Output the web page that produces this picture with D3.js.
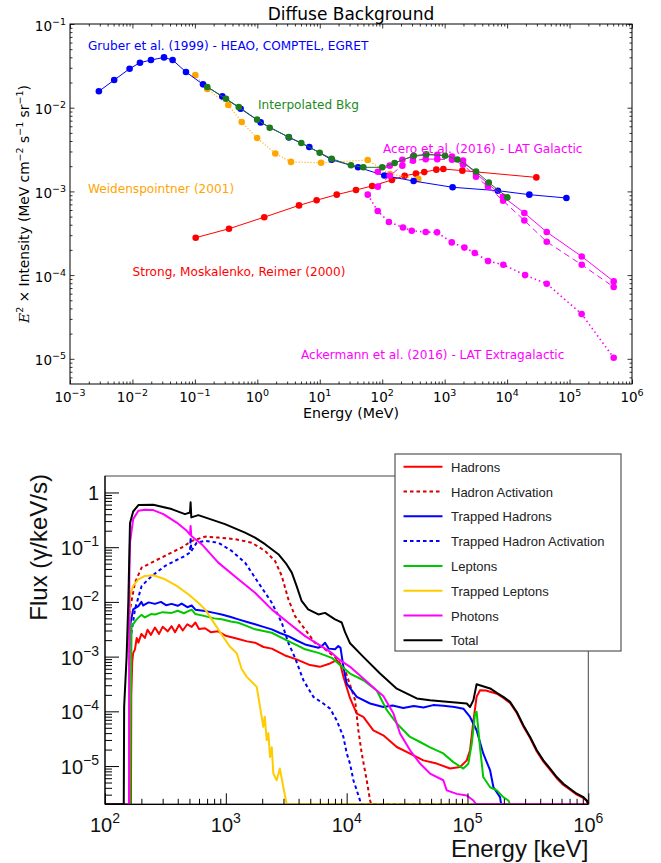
<!DOCTYPE html>
<html>
<head>
<meta charset="utf-8">
<script src="https://cdn.jsdelivr.net/npm/d3@7"></script>
<style>
  body { margin: 0; background: #fff; }
</style>
</head>
<body>
<div id="chart"></div>
<script>
// ---------- top panel data (MeV, MeV cm^-2 s^-1 sr^-1) ----------
const gruberE = [0.0029, 0.0051, 0.009, 0.0132, 0.0198, 0.032, 0.044, 0.072, 0.135, 0.275, 0.54, 1.13, 3.2, 6.8, 15.5, 41, 108, 318, 1340, 7100, 22700, 89000];
const gruberI = [0.0157, 0.0214, 0.0292, 0.0345, 0.0371, 0.0399, 0.0371, 0.0267, 0.019, 0.01365, 0.00973, 0.00667, 0.00442, 0.00339, 0.00239, 0.00194, 0.00155, 0.00133, 0.00112, 0.00102, 0.000914, 0.000834];

const interpE = [0.158, 0.315, 0.504, 0.99, 1.58, 3.18, 5.06, 9.97, 15.5, 31.6, 49.8, 100, 158, 320, 509, 1014, 1600, 3180, 5080, 10090];
const interpI = [0.0177, 0.0128, 0.0102, 0.0072, 0.00577, 0.00447, 0.00379, 0.0029, 0.00246, 0.00205, 0.00194, 0.00194, 0.00218, 0.00267, 0.00277, 0.00267, 0.00241, 0.00173, 0.00128, 0.000848];

const weidE = [0.1016, 0.158, 0.343, 0.562, 0.99, 1.94, 3.46, 10.5, 58.6, 133, 378];
const weidI = [0.0246, 0.0167, 0.01077, 0.00675, 0.00434, 0.00284, 0.00225, 0.0022, 0.00237, 0.00161, 0.00141];

const strongE = [0.103, 0.352, 1.29, 4.65, 8.9, 18.7, 38, 69, 143, 229, 347, 472, 735, 952, 1920, 29400];
const strongI = [2.8e-4, 3.58e-4, 4.92e-4, 6.8e-4, 7.85e-4, 9.14e-4, 1.04e-3, 1.16e-3, 1.37e-3, 1.54e-3, 1.63e-3, 1.7e-3, 1.82e-3, 1.85e-3, 1.77e-3, 1.47e-3];

const aceroE = [85, 132, 210, 311, 497, 762, 1312, 1968, 3176, 4943, 8610, 18870, 43100, 156700, 509000];
const aceroI = [1.72e-3, 2.03e-3, 2.39e-3, 2.6e-3, 2.74e-3, 2.74e-3, 2.6e-3, 2.33e-3, 1.63e-3, 1.24e-3, 8.63e-4, 5.52e-4, 3.27e-4, 1.67e-4, 8.41e-5];
const aceroDashI = [1.14e-3, 1.54e-3, 2.03e-3, 2.33e-3, 2.43e-3, 2.43e-3, 2.39e-3, 2.08e-3, 1.5e-3, 1.14e-3, 7.73e-4, 4.5e-4, 2.5e-4, 1.33e-4, 7.21e-5];

const ackerE = [58.6, 84.7, 128, 215, 297, 497, 755, 1300, 2070, 3030, 4950, 8700, 19400, 43100, 156000, 509000];
const ackerI = [9.14e-4, 5.83e-4, 4.31e-4, 3.71e-4, 3.39e-4, 3.27e-4, 3.24e-4, 2.46e-4, 2.13e-4, 1.84e-4, 1.47e-4, 1.33e-4, 1.0e-4, 7.89e-5, 3.43e-5, 1.03e-5];

const topDecadesX = [-3, -2, -1, 0, 1, 2, 3, 4, 5, 6];
const topDecadesY = [-5, -4, -3, -2, -1];

// ---------- bottom panel data ([keV, gamma/keV/s]) ----------
const hadrons = [[100,1e-7],[164,1e-7],[165,2e-4],[168,8e-4],[171,1.16e-3],[177,1.36e-3],[183,2.2e-3],[189,1.8e-3],[200,2.6e-3],[214,2.2e-3],[225,3.1e-3],[240,2.5e-3],[259,3.4e-3],[280,2.6e-3],[300,3.5e-3],[330,2.9e-3],[356,3.6e-3],[380,2.8e-3],[410,3.8e-3],[440,3.0e-3],[480,3.9e-3],[522,3.5e-3],[560,4.2e-3],[600,3.2e-3],[673,3.3e-3],[750,2.8e-3],[866,2.9e-3],[1000,2.4e-3],[1270,2.1e-3],[1500,1.9e-3],[1745,1.8e-3],[2050,1.5e-3],[2400,1.4e-3],[3090,1.05e-3],[3800,9e-4],[4980,7e-4],[6000,6.5e-4],[7290,7.5e-4],[8280,8.6e-4],[8900,7e-4],[9400,4.3e-4],[10670,1.74e-4],[12130,9.1e-5],[13740,7.9e-5],[16630,4.5e-5],[20100,3.65e-5],[26000,2.23e-5],[33500,1.69e-5],[43200,1.27e-5],[55700,1.11e-5],[71800,9e-6],[86900,9.6e-6],[98600,1.27e-5],[105000,1.94e-5],[112000,6.8e-5],[119000,1.84e-4],[127000,2.43e-4],[142000,2.4e-4],[175000,2.1e-4],[198000,1.75e-4],[225000,1.42e-4],[256000,9.3e-5],[290000,5.3e-5],[330000,3.25e-5],[375000,1.85e-5],[425000,1.2e-5],[483000,8.5e-6],[548000,6e-6],[622000,4.5e-6],[706000,3.7e-6],[803000,3e-6],[912000,2.6e-6],[972000,2.3e-6],[1000000,1e-7]];

const hadronAct = [[100,1e-7],[158,1e-7],[159,2e-3],[161,7.3e-3],[177,0.0225],[201,0.0423],[259,0.0561],[334,0.0745],[431,0.0984],[522,0.13],[673,0.156],[866,0.15],[1191,0.14],[1637,0.121],[2113,0.0855],[2554,0.0561],[2904,0.0298],[3290,0.0112],[3740,5.5e-3],[4530,3.15e-3],[5470,1.79e-3],[6625,1.36e-3],[8015,9.8e-4],[9700,5.7e-4],[11750,1.6e-4],[12500,4.5e-5],[13330,1.7e-5],[14660,5.5e-6],[15630,2.35e-6],[16000,1e-7],[1000000,1e-7]];

const trappedHadrons = [[100,1e-7],[158,1e-7],[159,5e-4],[161,3.6e-3],[171,7.3e-3],[189,8.4e-3],[200,1.0e-2],[207,8.6e-3],[230,9.8e-3],[259,9.2e-3],[290,1.0e-2],[320,8.7e-3],[356,9.2e-3],[400,8.5e-3],[431,9.3e-3],[480,8.0e-3],[522,8.6e-3],[560,7.2e-3],[673,6.8e-3],[800,6.3e-3],[925,5.9e-3],[1100,5.3e-3],[1270,4.8e-3],[1500,4.3e-3],[1745,3.9e-3],[2050,3.5e-3],[2400,3.15e-3],[2800,2.7e-3],[3290,2.37e-3],[3900,1.95e-3],[4530,1.67e-3],[5835,1.45e-3],[6300,1.6e-3],[6625,1.79e-3],[7100,1.4e-3],[8015,1.36e-3],[8530,1.56e-3],[8900,1.45e-3],[9400,6.5e-4],[10020,3.2e-4],[12130,1.84e-4],[15630,1.39e-4],[20100,1.2e-4],[24000,1.28e-4],[29400,1.15e-4],[36000,1.25e-4],[43200,1.18e-4],[52000,1.3e-4],[63100,1.27e-4],[78000,1.2e-4],[92500,1.12e-4],[105000,7.9e-5],[119000,4.5e-5],[135000,1.7e-5],[154000,8.3e-6],[164000,4.1e-6],[186000,2.7e-6],[190000,1e-7],[1000000,1e-7]];

const trappedHadronAct = [[100,1e-7],[158,1e-7],[159,3e-4],[161,1.8e-3],[177,7.3e-3],[201,0.0196],[244,0.0298],[314,0.0454],[379,0.0561],[459,0.0693],[505,0.08],[511,0.15],[518,0.085],[574,0.121],[673,0.13],[866,0.121],[1119,0.0855],[1442,0.0522],[1858,0.0225],[2400,0.00967],[2904,0.00416],[3290,0.00179],[3740,9.5e-4],[4385,3.7e-4],[5300,1.84e-4],[6410,1.39e-4],[7290,1.12e-4],[8280,6.8e-5],[9400,3.4e-5],[10020,1.7e-5],[10670,1.1e-5],[11370,5.5e-6],[12130,3.6e-6],[12900,2.35e-6],[13000,1e-7],[1000000,1e-7]];

const leptons = [[100,1e-7],[162,1e-7],[163,1e-4],[166,3.6e-3],[183,4.8e-3],[200,5.8e-3],[214,5.2e-3],[240,6.0e-3],[259,5.9e-3],[300,6.5e-3],[356,6.3e-3],[400,6.9e-3],[450,6.2e-3],[489,6.8e-3],[522,7.2e-3],[560,6.0e-3],[673,5.5e-3],[800,5.0e-3],[925,4.8e-3],[1100,4.4e-3],[1270,4.16e-3],[1500,3.6e-3],[1745,3.15e-3],[2050,2.95e-3],[2400,2.73e-3],[2800,2.3e-3],[3290,1.92e-3],[3900,1.6e-3],[4530,1.36e-3],[5835,1.17e-3],[7530,9.5e-4],[8810,7e-4],[10670,4.9e-4],[13740,3.7e-4],[17740,2.4e-4],[21500,1.05e-4],[26000,6e-5],[33500,3.4e-5],[40500,2.75e-5],[49000,2.2e-5],[63100,1.7e-5],[76400,1.18e-5],[92500,9e-6],[101600,1.1e-5],[108600,2.6e-5],[115600,9.1e-5],[119000,9.8e-5],[127000,2.2e-5],[135000,6.3e-6],[154000,4.1e-6],[175000,3.6e-6],[198000,2.7e-6],[218000,2.35e-6],[225000,1e-7],[1000000,1e-7]];

const trappedLeptons = [[100,1e-7],[158,1e-7],[159,3e-3],[161,0.0128],[171,0.0196],[189,0.0259],[214,0.0298],[251,0.0307],[314,0.0259],[392,0.0196],[489,0.0138],[592,0.00967],[673,0.00731],[764,0.0048],[866,0.00315],[984,0.00206],[1084,1.51e-3],[1231,1.15e-3],[1350,6e-4],[1489,4.27e-4],[1650,3.4e-4],[1803,2.8e-4],[1920,1.2e-4],[2043,5.2e-5],[2100,8e-5],[2180,2.96e-5],[2250,4e-5],[2323,1.46e-5],[2400,2.2e-5],[2473,7.3e-6],[2637,5.5e-6],[2800,9e-6],[2993,4.1e-6],[3190,1e-7],[1000000,1e-7]];

const photons = [[100,1e-7],[158,1e-7],[159,0.03],[161,0.121],[171,0.326],[189,0.462],[214,0.482],[251,0.476],[304,0.402],[392,0.282],[475,0.199],[505,0.17],[511,0.245],[518,0.16],[631,0.1135],[866,0.0522],[1270,0.0259],[1745,0.0147],[2400,0.00731],[3290,0.00416],[4530,0.00237],[5835,0.00167],[7530,0.00117],[8810,8.6e-4],[10670,6.5e-4],[13740,4e-4],[17740,2.4e-4],[20100,1.9e-4],[24400,9.1e-5],[27700,3.9e-5],[33500,1.94e-5],[40500,1.11e-5],[49000,7.3e-6],[63100,5.5e-6],[67400,3.6e-6],[81500,3.1e-6],[98600,2.9e-6],[112000,2.35e-6],[118000,1e-7],[1000000,1e-7]];

const total = [[100,1e-7],[143,1e-7],[144,1.2e-4],[151,1.0e-3],[156,0.01],[161,0.275],[171,0.449],[189,0.588],[251,0.595],[356,0.497],[459,0.402],[505,0.43],[511,0.66],[518,0.35],[592,0.385],[984,0.264],[1442,0.185],[1745,0.15],[2113,0.1135],[2720,0.0745],[3180,0.0489],[3515,0.0343],[3850,0.0196],[4240,0.0104],[4800,0.0073],[5835,0.0059],[6625,0.0063],[8015,0.0048],[8530,0.0045],[9100,0.0042],[9700,0.0028],[10670,0.00175],[13740,9.9e-4],[18900,4.9e-4],[26000,2.6e-4],[38000,1.72e-4],[49000,1.6e-4],[67400,1.49e-4],[98600,1.39e-4],[105000,1.2e-4],[112000,1.6e-4],[119000,3.13e-4],[154000,2.62e-4],[175000,2.17e-4],[198000,1.84e-4],[225000,1.49e-4],[256000,9.75e-5],[290000,5.56e-5],[330000,3.4e-5],[375000,1.94e-5],[425000,1.27e-5],[483000,8.95e-6],[548000,6.3e-6],[622000,4.76e-6],[706000,3.85e-6],[803000,3.12e-6],[912000,2.7e-6],[972000,2.35e-6],[1000000,1e-7]];

const seriesNames = ["Hadrons", "Hadron Activation", "Trapped Hadrons", "Trapped Hadron Activation", "Leptons", "Trapped Leptons", "Photons", "Total"];
const bottomDecadesX = [2, 3, 4, 5, 6];
const bottomDecadesY = [-5, -4, -3, -2, -1, 0];

// ---------- drawing ----------
const svg = d3.select("#chart").append("svg")
    .attr("width", 661)
    .attr("height", 863);

function minorTicks(d0, d1, lo, hi) {
    const out = [];
    for (let d = d0; d <= d1; d++) {
        for (let k = 2; k <= 9; k++) {
            const v = k * Math.pow(10, d);
            if (v > lo && v < hi) out.push(v);
        }
    }
    return out;
}

function powerLabel(text, exp, bigSize, smallSize, shift) {
    text.append("tspan").text("10");
    text.append("tspan")
        .attr("dy", -shift)
        .attr("font-size", smallSize)
        .text(exp < 0 ? "\u2212" + (-exp) : String(exp));
}

// ===== top panel =====
const t = { left: 70, right: 632, top: 24, bottom: 384 };
const x1 = d3.scaleLog().domain([1e-3, 1e6]).range([t.left, t.right]);
const y1 = d3.scaleLog().domain([5e-6, 1e-1]).range([t.bottom, t.top]);

const topG = svg.append("g").style("font-family", "'DejaVu Sans', sans-serif");

topG.append("clipPath").attr("id", "clipTop")
    .append("rect").attr("x", t.left).attr("y", t.top)
    .attr("width", t.right - t.left).attr("height", t.bottom - t.top);

const xMajor1 = topDecadesX.map(d => Math.pow(10, d));
const yMajor1 = topDecadesY.map(d => Math.pow(10, d));
const xMinor1 = minorTicks(-3, 5, 1e-3, 1e6);
const yMinor1 = minorTicks(-6, -2, 5e-6, 1e-1);

// inward ticks on all four sides
function tickAxis(g, axisFn, scale, values, size, transform) {
    g.append("g")
        .attr("transform", transform)
        .call(axisFn(scale).tickValues(values).tickSize(size).tickFormat(""))
        .call(s => s.select(".domain").remove())
        .selectAll("line").attr("stroke", "#000").attr("stroke-width", 0.8);
}
tickAxis(topG, d3.axisBottom, x1, xMajor1, -4.5, `translate(0,${t.bottom})`);
tickAxis(topG, d3.axisBottom, x1, xMinor1, -2.5, `translate(0,${t.bottom})`);
tickAxis(topG, d3.axisTop, x1, xMajor1, -4.5, `translate(0,${t.top})`);
tickAxis(topG, d3.axisTop, x1, xMinor1, -2.5, `translate(0,${t.top})`);
tickAxis(topG, d3.axisLeft, y1, yMajor1, -4.5, `translate(${t.left},0)`);
tickAxis(topG, d3.axisLeft, y1, yMinor1, -2.5, `translate(${t.left},0)`);
tickAxis(topG, d3.axisRight, y1, yMajor1, -4.5, `translate(${t.right},0)`);
tickAxis(topG, d3.axisRight, y1, yMinor1, -2.5, `translate(${t.right},0)`);

topG.append("rect")
    .attr("x", t.left).attr("y", t.top)
    .attr("width", t.right - t.left).attr("height", t.bottom - t.top)
    .attr("fill", "none").attr("stroke", "#000").attr("stroke-width", 1);

// tick labels
topDecadesX.forEach(d => {
    const tx = topG.append("text")
        .attr("x", x1(Math.pow(10, d)))
        .attr("y", 401.5)
        .attr("text-anchor", "middle")
        .attr("font-size", 13.5);
    powerLabel(tx, d, 13.5, 9.5, 6);
});
topDecadesY.forEach(d => {
    const ty = topG.append("text")
        .attr("x", t.left - 4)
        .attr("y", y1(Math.pow(10, d)) + 6.5)
        .attr("text-anchor", "end")
        .attr("font-size", 13.5);
    powerLabel(ty, d, 13.5, 9.5, 6);
});

topG.append("text")
    .attr("x", 351).attr("y", 20)
    .attr("text-anchor", "middle")
    .attr("font-size", 17)
    .text("Diffuse Background");

topG.append("text")
    .attr("x", 351).attr("y", 418)
    .attr("text-anchor", "middle")
    .attr("font-size", 14.2)
    .text("Energy (MeV)");

const yl = topG.append("text")
    .attr("transform", `translate(28.5,${(t.top + t.bottom) / 2}) rotate(-90)`)
    .attr("text-anchor", "middle")
    .attr("font-size", 13.8);
yl.append("tspan").attr("font-family", "'DejaVu Serif', serif").attr("font-style", "italic").text("E");
yl.append("tspan").attr("dy", -6).attr("font-size", 9.5).text("2");
yl.append("tspan").attr("dy", 6).text(" \u00d7 Intensity (MeV cm");
yl.append("tspan").attr("dy", -6).attr("font-size", 9.5).text("\u22122");
yl.append("tspan").attr("dy", 6).text(" s");
yl.append("tspan").attr("dy", -6).attr("font-size", 9.5).text("\u22121");
yl.append("tspan").attr("dy", 6).text(" sr");
yl.append("tspan").attr("dy", -6).attr("font-size", 9.5).text("\u22121");
yl.append("tspan").attr("dy", 6).text(")");

const plotTop = topG.append("g").attr("clip-path", "url(#clipTop)");
const line1 = d3.line().x(d => x1(d[0])).y(d => y1(d[1]));

function topSeries(E, I, color, dash, width) {
    const pts = E.map((e, i) => [e, I[i]]);
    plotTop.append("path")
        .datum(pts)
        .attr("d", line1)
        .attr("fill", "none")
        .attr("stroke", color)
        .attr("stroke-width", width || 1)
        .attr("stroke-dasharray", dash || null);
    plotTop.selectAll(null)
        .data(pts)
        .enter()
        .append("circle")
        .attr("cx", d => x1(d[0]))
        .attr("cy", d => y1(d[1]))
        .attr("r", 3.3)
        .attr("fill", color);
}

topSeries(strongE, strongI, "#ff0000");
topSeries(weidE, weidI, "#ffa500", "1,2", 1.2);
topSeries(gruberE, gruberI, "#0000ff");
topSeries(ackerE, ackerI, "#ff00ff", "1.5,3", 1.6);
topSeries(aceroE, aceroDashI, "#ff00ff", "6,4");
topSeries(aceroE, aceroI, "#ff00ff");
topSeries(interpE, interpI, "#1d7a1d");

const topLabels = [
    { text: "Gruber et al. (1999) - HEAO, COMPTEL, EGRET", x: 88, y: 50, color: "#0000ff" },
    { text: "Interpolated Bkg", x: 258, y: 109, color: "#1d8a1d" },
    { text: "Acero et al. (2016) - LAT Galactic", x: 383, y: 152.5, color: "#ff00ff" },
    { text: "Weidenspointner (2001)", x: 88, y: 192.5, color: "#ffa500" },
    { text: "Strong, Moskalenko, Reimer (2000)", x: 132.5, y: 276, color: "#ff0000" },
    { text: "Ackermann et al. (2016) - LAT Extragalactic", x: 301, y: 359, color: "#ff00ff" }
];
topG.selectAll(".lab")
    .data(topLabels)
    .enter()
    .append("text")
    .attr("x", d => d.x)
    .attr("y", d => d.y)
    .attr("font-size", 12.1)
    .attr("fill", d => d.color)
    .text(d => d.text);

// ===== bottom panel =====
const b = { left: 105, right: 588.3, top: 476, bottom: 804.3 };
const x2 = d3.scaleLog().domain([100, 1e6]).range([b.left, b.right]);
const y2 = d3.scaleLog().domain([2e-6, 2]).range([b.bottom, b.top]).clamp(true);

const botG = svg.append("g").style("font-family", "'Liberation Sans', Arial, Helvetica, sans-serif");

botG.append("clipPath").attr("id", "clipBot")
    .append("rect").attr("x", b.left).attr("y", b.top)
    .attr("width", b.right - b.left).attr("height", b.bottom - b.top);

// frame
botG.append("rect")
    .attr("x", b.left).attr("y", b.top)
    .attr("width", b.right - b.left).attr("height", b.bottom - b.top)
    .attr("fill", "none").attr("stroke", "#444").attr("stroke-width", 1);

const plotBot = botG.append("g").attr("clip-path", "url(#clipBot)");
const line2 = d3.line().x(d => x2(d[0])).y(d => y2(d[1]));

const bottomSeries = [
    { data: hadrons, color: "#ff0000", dash: null },
    { data: hadronAct, color: "#d40000", dash: "3.5,3" },
    { data: trappedHadrons, color: "#0000ff", dash: null },
    { data: trappedHadronAct, color: "#0000ff", dash: "3.5,3" },
    { data: leptons, color: "#00c800", dash: null },
    { data: trappedLeptons, color: "#ffcc00", dash: null },
    { data: photons, color: "#ff00ff", dash: null },
    { data: total, color: "#000000", dash: null }
];

plotBot.selectAll(".hist")
    .data(bottomSeries)
    .enter()
    .append("path")
    .attr("d", d => line2(d.data))
    .attr("fill", "none")
    .attr("stroke", d => d.color)
    .attr("stroke-width", 2)
    .attr("stroke-dasharray", d => d.dash)
    .attr("stroke-linejoin", "round");

// axes (ticks point inward)
const xMajor2 = bottomDecadesX.map(d => Math.pow(10, d));
const yMajor2 = bottomDecadesY.map(d => Math.pow(10, d));
const xMinor2 = minorTicks(2, 5, 100, 1e6);
const yMinor2 = minorTicks(-6, 0, 2e-6, 2);

function axisB(axisFn, scale, values, size, transform) {
    botG.append("g")
        .attr("transform", transform)
        .call(axisFn(scale).tickValues(values).tickSize(size).tickFormat(""))
        .call(s => s.select(".domain").remove())
        .selectAll("line").attr("stroke", "#000").attr("stroke-width", 1);
}
axisB(d3.axisBottom, x2, xMajor2, -11, `translate(0,${b.bottom})`);
axisB(d3.axisBottom, x2, xMinor2, -5.5, `translate(0,${b.bottom})`);
axisB(d3.axisLeft, y2, yMajor2, -14, `translate(${b.left},0)`);
axisB(d3.axisLeft, y2, yMinor2, -7, `translate(${b.left},0)`);

botG.append("line")
    .attr("x1", b.left).attr("x2", b.right)
    .attr("y1", b.bottom).attr("y2", b.bottom)
    .attr("stroke", "#000").attr("stroke-width", 1.2);
botG.append("line")
    .attr("x1", b.left).attr("x2", b.left)
    .attr("y1", b.top).attr("y2", b.bottom)
    .attr("stroke", "#000").attr("stroke-width", 1.2);

bottomDecadesX.forEach(d => {
    const tx = botG.append("text")
        .attr("x", x2(Math.pow(10, d)))
        .attr("y", 832)
        .attr("text-anchor", "middle")
        .attr("font-size", 20)
        .attr("fill", "#111");
    powerLabel(tx, d, 20, 14, 9);
});
bottomDecadesY.forEach(d => {
    const ty = botG.append("text")
        .attr("x", 99)
        .attr("y", y2(Math.pow(10, d)) + 8)
        .attr("text-anchor", "end")
        .attr("font-size", 20)
        .attr("fill", "#111");
    if (d === 0) ty.text("1");
    else powerLabel(ty, d, 20, 14, 9);
});

botG.append("text")
    .attr("x", b.right).attr("y", 857)
    .attr("text-anchor", "end")
    .attr("font-size", 24)
    .attr("fill", "#111")
    .text("Energy [keV]");

botG.append("text")
    .attr("transform", `translate(47,${b.top - 2}) rotate(-90)`)
    .attr("text-anchor", "end")
    .attr("font-size", 24)
    .attr("fill", "#111")
    .text("Flux (\u03b3/keV/s)");

// legend
const leg = botG.append("g");
leg.append("rect")
    .attr("x", 395).attr("y", 454)
    .attr("width", 226).attr("height", 197)
    .attr("fill", "#fff").attr("stroke", "#555").attr("stroke-width", 1.2);

seriesNames.forEach((name, i) => {
    const yy = 471.7 + i * 24.8;
    leg.append("line")
        .attr("x1", 403.5).attr("x2", 442.5)
        .attr("y1", yy - 5).attr("y2", yy - 5)
        .attr("stroke", bottomSeries[i].color)
        .attr("stroke-width", 2)
        .attr("stroke-dasharray", bottomSeries[i].dash);
    leg.append("text")
        .attr("x", 451).attr("y", yy)
        .attr("font-size", 13)
        .attr("fill", "#222")
        .text(name);
});
</script>
</body>
</html>
